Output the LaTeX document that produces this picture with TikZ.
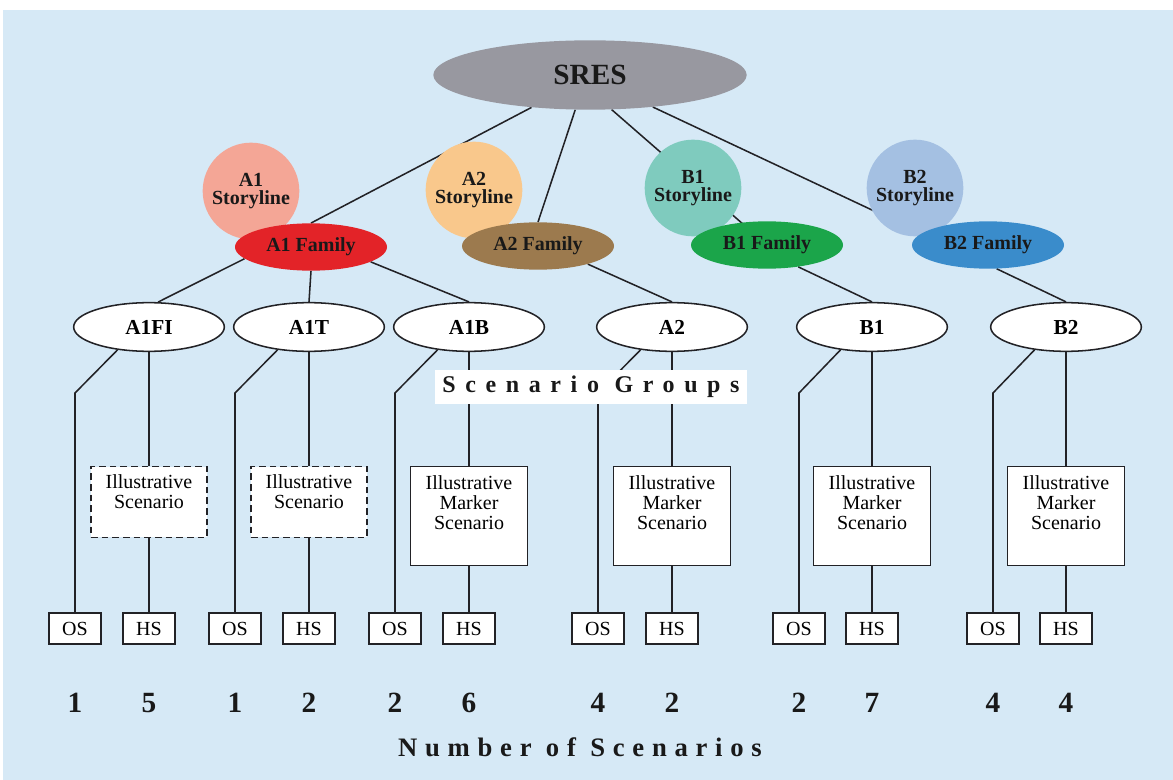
\documentclass[tikz,border=0pt]{standalone}
\usepackage{fontspec}
\setmainfont{Liberation Serif}
\usetikzlibrary{shapes.geometric}
\pgfdeclarelayer{bg}
\pgfdeclarelayer{lines}
\pgfsetlayers{bg,lines,main}
\definecolor{bgblue}{RGB}{214,233,246}
\definecolor{sresgray}{RGB}{152,152,160}
\definecolor{aonesl}{RGB}{244,166,150}
\definecolor{aonefam}{RGB}{227,35,40}
\definecolor{atwosl}{RGB}{249,200,140}
\definecolor{atwofam}{RGB}{156,122,78}
\definecolor{bonesl}{RGB}{127,203,190}
\definecolor{bonefam}{RGB}{27,165,74}
\definecolor{btwosl}{RGB}{164,192,226}
\definecolor{btwofam}{RGB}{58,140,203}
\definecolor{linec}{RGB}{34,34,38}
\begin{document}
\begin{tikzpicture}[x=0.75pt,y=-0.75pt,
  conn/.style={draw=linec,line width=1.15pt},
  sres/.style={ellipse,fill=sresgray,minimum width=235pt,minimum height=52pt,inner sep=0pt,
    font=\fontsize{22pt}{24pt}\selectfont\bfseries,text=black!90},
  story/.style={circle,minimum size=72.5pt,inner sep=0pt,align=center,
    font=\fontsize{15pt}{13.5pt}\selectfont\bfseries,text=black!90},
  family/.style={ellipse,minimum width=114pt,minimum height=35.5pt,inner sep=0pt,
    font=\fontsize{15pt}{16pt}\selectfont\bfseries,text=black!90},
  group/.style={ellipse,draw=linec,line width=1.15pt,fill=white,minimum width=113pt,minimum height=36.5pt,
    inner sep=0pt,font=\fontsize{16pt}{18pt}\selectfont\bfseries},
  illus/.style={rectangle,draw=linec,line width=1.15pt,fill=white,dash pattern=on 5pt off 3pt,
    minimum width=87pt,minimum height=53pt,align=center,text depth=16pt,
    font=\fontsize{15pt}{15pt}\selectfont},
  marker/.style={rectangle,draw=linec,line width=1.15pt,fill=white,
    minimum width=88pt,minimum height=74pt,align=center,text depth=20pt,
    font=\fontsize{15pt}{15pt}\selectfont},
  sbox/.style={rectangle,draw=linec,line width=1.15pt,fill=white,minimum width=39pt,minimum height=23pt,
    inner sep=0pt,font=\fontsize{15pt}{16pt}\selectfont},
  num/.style={font=\fontsize{22pt}{24pt}\selectfont\bfseries,text=black!90}
]
\begin{pgfonlayer}{bg}
  \fill[white] (0,0) rectangle (1173,780);
  \fill[bgblue] (3,10) rectangle (1173,780);
\end{pgfonlayer}

% top
\node[sres] (sres) at (590,75) {SRES};
\node[story,fill=aonesl] (a1sl) at (251,191) {A1\\Storyline};
\node[story,fill=atwosl] (a2sl) at (474,190) {A2\\Storyline};
\node[story,fill=bonesl] (b1sl) at (693,188) {B1\\Storyline};
\node[story,fill=btwosl] (b2sl) at (915,188) {B2\\Storyline};
\node[family,fill=aonefam] (a1fam) at (311,247) {A1 Family};
\node[family,fill=atwofam] (a2fam) at (538,246) {A2 Family};
\node[family,fill=bonefam] (b1fam) at (767,245) {B1 Family};
\node[family,fill=btwofam] (b2fam) at (988,245) {B2 Family};

% groups
\node[group] (g1) at (149,327) {A1FI};
\node[group] (g2) at (309,327) {A1T};
\node[group] (g3) at (469,327) {A1B};
\node[group] (g4) at (672,327) {A2};
\node[group] (g5) at (872,327) {B1};
\node[group] (g6) at (1066,327) {B2};

% illustrative boxes
\node[illus] (i1) at (149,502) {Illustrative\\Scenario};
\node[illus] (i2) at (309,502) {Illustrative\\Scenario};
\node[marker] (i3) at (469,516) {Illustrative\\Marker\\Scenario};
\node[marker] (i4) at (672,516) {Illustrative\\Marker\\Scenario};
\node[marker] (i5) at (872,516) {Illustrative\\Marker\\Scenario};
\node[marker] (i6) at (1066,516) {Illustrative\\Marker\\Scenario};

% OS / HS boxes
\node[sbox] (o1) at (75,628.5) {OS};
\node[sbox] (h1) at (149,628.5) {HS};
\node[sbox] (o2) at (235,628.5) {OS};
\node[sbox] (h2) at (309,628.5) {HS};
\node[sbox] (o3) at (395,628.5) {OS};
\node[sbox] (h3) at (469,628.5) {HS};
\node[sbox] (o4) at (598,628.5) {OS};
\node[sbox] (h4) at (672,628.5) {HS};
\node[sbox] (o5) at (799,628.5) {OS};
\node[sbox] (h5) at (872,628.5) {HS};
\node[sbox] (o6) at (993,628.5) {OS};
\node[sbox] (h6) at (1066,628.5) {HS};

% numbers
\node[num] (n1) at (75,703) {1};
\node[num] (n2) at (149,703) {5};
\node[num] (n3) at (235,703) {1};
\node[num] (n4) at (309,703) {2};
\node[num] (n5) at (395,703) {2};
\node[num] (n6) at (469,703) {6};
\node[num] (n7) at (598,703) {4};
\node[num] (n8) at (672,703) {2};
\node[num] (n9) at (799,703) {2};
\node[num] (n10) at (872,703) {7};
\node[num] (n11) at (993,703) {4};
\node[num] (n12) at (1066,703) {4};

\node[font=\fontsize{20pt}{22pt}\selectfont\bfseries\addfontfeature{LetterSpace=29},text=black!90]
  (numtitle) at (580,747) {Number of Scenarios};
\node[fill=white,minimum width=234pt,minimum height=25pt,inner sep=0pt,
  font=\fontsize{18pt}{20pt}\selectfont\bfseries\addfontfeature{LetterSpace=40},text=black!90]
  (sgroups) at (591,387) {Scenario Groups};

\coordinate (knee) at (0,393);

\begin{pgfonlayer}{lines}
  \draw[conn] (sres.209) -- (a1fam.north);
  \draw[conn] (sres.247) -- (a2fam.north);
  \draw[conn] (sres.302) -- (b1fam.center);
  \draw[conn] (sres.333) -- (b2fam.170);
  \draw[conn] (a1fam.190) -- (g1.70);
  \draw[conn] (a1fam.south) -- (g2.north);
  \draw[conn] (a1fam.-14) -- (g3.north);
  \draw[conn] (a2fam.-20) -- (g4.north);
  \draw[conn] (b1fam.-35) -- (g5.north);
  \draw[conn] (b2fam.-70) -- (g6.north);
  \foreach \g/\i/\o/\h in {g1/i1/o1/h1,g2/i2/o2/h2,g3/i3/o3/h3,g4/i4/o4/h4,g5/i5/o5/h5,g6/i6/o6/h6}{
    \draw[conn] (\g.216) -- (\o.north |- knee) -- (\o.north);
    \draw[conn] (\g.south) -- (\i.north);
    \draw[conn] (\i.south) -- (\h.north);
  }
\end{pgfonlayer}
\end{tikzpicture}
\end{document}
